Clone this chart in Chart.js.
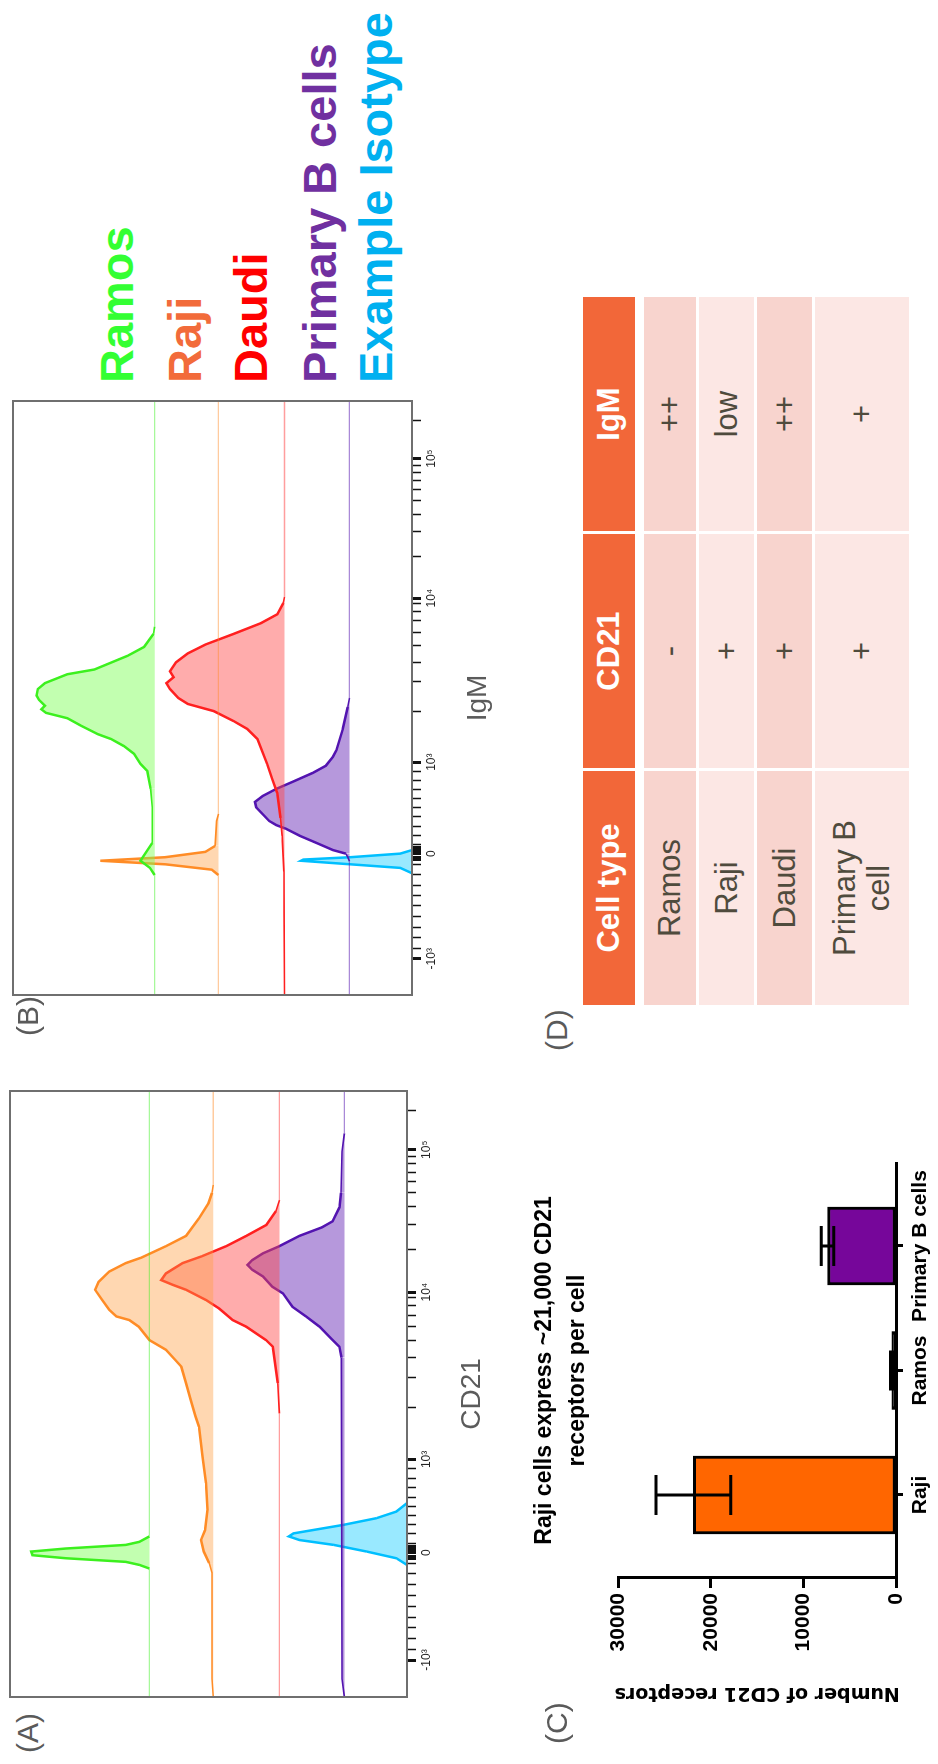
<!DOCTYPE html>
<html>
<head>
<meta charset="utf-8">
<script src="https://cdn.jsdelivr.net/npm/chart.js@4.4.0/dist/chart.umd.min.js"></script>
<style>
  html, body { margin: 0; padding: 0; background: #fff; overflow: hidden; }
  body { width: 938px; height: 1764px; position: relative; }
  /* the figure is laid out landscape and turned a quarter turn */
  #fig { position: absolute; left: 0; top: 0; width: 1764px; height: 938px;
         transform-origin: 0 0; transform: translate(0, 1764px) rotate(-90deg);
         font-family: 'Liberation Sans', Arial, sans-serif; background: #fff; }
  #fig canvas { position: absolute; }
  .lbl { position: absolute; font-size: 30px; line-height: 30px; color: #5a5a5a; white-space: nowrap; }
  .leg { position: absolute; font-size: 47px; line-height: 47px; font-weight: bold; white-space: nowrap; }
  .cell { position: absolute; display: flex; align-items: center; justify-content: center;
          text-align: center; font-size: 31px; line-height: 34px; color: #4f4b3d; white-space: pre-line; }
  .head { background: #f26739; color: #fff; font-weight: bold; }
</style>
</head>
<body>
<div id="fig">
  <canvas id="cd21Chart" width="626" height="500" style="left:57px;top:0px"></canvas>
  <canvas id="igmChart" width="614" height="500" style="left:759px;top:0px"></canvas>
  <canvas id="barChart" width="620" height="418" style="left:0px;top:520px"></canvas>
</div>
<script>
// ---- data ----
var cellLines = ['Ramos', 'Raji', 'Daudi', 'Primary B cells', 'Example Isotype'];
var offsets = [218, 164, 108, 53, 0];   // baseline of each offset histogram (% of mode units)

// flow axis, channel units 0..1000
var tickChannels = [61, 238, 392, 668, 903];
var tickLabels = ['-10³', '0', '10³', '10⁴', '10⁵'];
var minorTicks = [79, 96, 114, 132, 150, 167, 185, 203, 220, 228, 232, 244, 248, 253, 269, 284, 300, 315, 330, 346, 361, 377,
                  478, 527, 560, 588, 611, 630, 646, 659, 739, 780, 809, 832, 851, 866, 880, 892, 968];
var boldTicks = [228, 232, 244, 248];

// panel A, CD21 histograms [channel, % of mode]
var cd21Ramos = [[0,0],[212,0],[218,8.5],[223,20],[229,71],[234,99],[240,100],[245,71],[251,20],[256,8.5],[265,0],[1000,0]];
var cd21Raji = [[0,0],[30,1],[205,1],[221,3.4],[240,8],[259,10.4],[275,7],[309,4.8],[353,6.2],[397,9],[446,12],[463,15],
  [490,19],[518,23],[545,27],[556,32],[573,40],[589,54],[611,63],[622,71],[628,82],[639,88],[655,94],[672,100],[685,97],
  [702,88],[716,74],[725,61],[744,40],[761,23],[790,12],[815,4],[832,1],[845,0],[1000,0]];
var cd21Daudi = [[0,0],[468,0],[518,1.4],[578,5.6],[589,11.3],[611,28],[622,39.5],[641,51],[655,62],[672,79],[680,90],
  [688,100],[699,96],[716,82],[727,66],[744,45],[761,28],[779,11],[802,2.8],[820,0],[1000,0]];
var cd21PrimaryB = [[0,0],[30,2],[560,2.5],[578,4.2],[589,10],[611,21],[628,32.5],[644,44],[666,52],[677,61],[694,69],
  [705,78],[713,82],[721,78],[732,69],[744,55],[761,38],[775,19],[785,10],[808,4.2],[832,2.8],[900,2],[930,0],[1000,0]];
var cd21Isotype = [[0,0],[218,0],[229,9],[240,34],[251,62],[259,91],[265,100],[270,96],[284,54],[295,26],[306,9],[320,0],[1000,0]];

// panel B, IgM histograms
var igmRamos = [[0,0],[202,0],[214,4],[226,12],[244,6],[256,2],[316,2],[347,3.4],[377,6.2],[389,12],[406,17.5],[419,26],
  [431,37],[439,48],[454,63],[466,74],[475,92],[481,96],[487,93],[497,98],[504,100],[515,99],[525,93],[540,74],[548,51],
  [571,23],[586,9],[608,1],[620,0],[1000,0]];
var igmRaji = [[0,0],[202,0],[211,5.6],[220,45],[226,100],[232,45],[241,11],[251,2.8],[293,1.5],[305,0],[1000,0]];
var igmDaudi = [[0,0],[208,0.5],[268,2],[298,3.4],[340,6.2],[364,10.5],[389,14.7],[431,23],[448,31.6],[461,43],[478,60],
  [490,82],[500,90],[515,97],[525,100],[535,94],[545,97],[560,92],[575,82],[590,67],[608,43],[626,20],[641,6],[660,1],[670,0],[1000,0]];
var igmPrimaryB = [[0,0],[225,0],[232,1.4],[238,3],[244,14],[256,28],[268,42],[280,54],[286,62],[293,68],[316,79],[325,80],
  [335,73.5],[347,62],[359,48],[374,31],[386,20],[401,14],[412,11],[448,5.6],[485,1.4],[500,0],[1000,0]];
var igmIsotype = [[0,0],[205,0],[214,10],[220,52],[226,94],[228,92],[232,52],[238,10],[244,0],[1000,0]];

// panel C
var barCategories = ['Raji', 'Ramos', 'Primary B cells'];
var receptorMeans = [21900, 450, 7400];
var receptorErr = [4050, 150, 680];
var yTicksBar = [0, 10000, 20000, 30000];

// panel D
var tableHeader = ['Cell type', 'CD21', 'IgM'];
var tableRows = [['Ramos', '-', '++'], ['Raji', '+', 'low'], ['Daudi', '+', '++'], ['Primary B\ncell', '+', '+']];

// ---- styles ----
var legendColors = ['#33ff33', '#f26b3a', '#ff0000', '#7030a0', '#00b0f0'];
var lineColors = ['#3cf01e', '#ff8c26', '#ff2020', '#5314b0', '#00bfff'];
var fillColors = ['rgba(120,255,80,0.45)', 'rgba(255,160,70,0.42)', 'rgba(255,70,70,0.45)', 'rgba(110,50,185,0.5)', 'rgba(0,200,255,0.4)'];
var baseColors = ['rgba(60,240,30,0.45)', 'rgba(255,140,40,0.45)', 'rgba(255,40,40,0.45)', 'rgba(83,20,176,0.5)', 'rgba(0,190,255,0.5)'];
var barColors = ['#ff6600', '#111111', '#76069a'];

Chart.defaults.font.family = "'Liberation Sans', Arial, sans-serif";

var framePlugin = {
  id: 'frame',
  afterDatasetsDraw: function (chart) {
    var a = chart.chartArea, ctx = chart.ctx;
    ctx.save();
    ctx.strokeStyle = '#6f6f6f';
    ctx.lineWidth = 2;
    ctx.strokeRect(a.left, a.top, a.right - a.left, a.bottom - a.top);
    ctx.restore();
  }
};

function flowChart(id, series, yMax, padTop, axisHeight, title, titlePad) {
  var datasets = series.map(function (pts, i) {
    var h = function (c) { return Math.max(pts[c.p0DataIndex][1], pts[c.p1DataIndex][1]); };
    return {
      data: pts.map(function (p) { return { x: p[0], y: offsets[i] + p[1] }; }),
      borderColor: lineColors[i],
      backgroundColor: fillColors[i],
      borderWidth: 2.5,
      fill: { value: offsets[i] },
      pointRadius: 0,
      tension: 0,
      segment: {
        borderWidth: function (c) { var m = h(c); return m === 0 ? 1.3 : (m < 4 ? 1.6 : 2.5); },
        borderColor: function (c) { return h(c) === 0 ? baseColors[i] : lineColors[i]; }
      }
    };
  });
  var allTicks = tickChannels.concat(minorTicks).sort(function (a, b) { return a - b; });
  return new Chart(document.getElementById(id), {
    type: 'line',
    data: { datasets: datasets },
    options: {
      responsive: false,
      animation: false,
      layout: { padding: { left: 10, right: 10, top: padTop, bottom: 0 } },
      plugins: { legend: { display: false }, tooltip: { enabled: false } },
      scales: {
        x: {
          type: 'linear', min: 0, max: 1000,
          afterBuildTicks: function (s) { s.ticks = allTicks.map(function (v) { return { value: v }; }); },
          afterFit: function (s) { s.height = axisHeight; },
          ticks: {
            autoSkip: false, maxRotation: 0, padding: 3, color: '#222', font: { size: 12 },
            callback: function (v) { var k = tickChannels.indexOf(v); return k >= 0 ? tickLabels[k] : ''; }
          },
          grid: {
            drawOnChartArea: false, tickLength: 9, tickColor: '#111',
            tickWidth: function (c) {
              if (!c.tick) return 1.5;
              return (tickChannels.indexOf(c.tick.value) >= 0 || boldTicks.indexOf(c.tick.value) >= 0) ? 3 : 1.5;
            }
          },
          border: { display: true, color: '#6f6f6f', width: 2 },
          title: { display: true, text: title, color: '#5b5b5b', font: { size: 28 }, padding: { top: 0, bottom: titlePad } }
        },
        y: { display: false, min: 0, max: yMax }
      }
    },
    plugins: [framePlugin]
  });
}

flowChart('cd21Chart', [cd21Ramos, cd21Raji, cd21Daudi, cd21PrimaryB, cd21Isotype], 336, 10, 93, 'CD21', 11);
flowChart('igmChart', [igmRamos, igmRaji, igmDaudi, igmPrimaryB, igmIsotype], 338, 13, 88, 'IgM', 5);

var errorBarPlugin = {
  id: 'errorBars',
  afterDatasetsDraw: function (chart) {
    var ctx = chart.ctx, x = chart.scales.x, y = chart.scales.y;
    ctx.save();
    ctx.strokeStyle = '#000';
    ctx.lineWidth = 3;
    receptorMeans.forEach(function (m, i) {
      var px = x.getPixelForValue(i);
      var hi = y.getPixelForValue(m + receptorErr[i]);
      var lo = y.getPixelForValue(Math.max(0, m - receptorErr[i]));
      ctx.beginPath();
      ctx.moveTo(px, hi); ctx.lineTo(px, lo);
      ctx.moveTo(px - 20, hi); ctx.lineTo(px + 20, hi);
      ctx.moveTo(px - 20, lo); ctx.lineTo(px + 20, lo);
      ctx.stroke();
    });
    ctx.restore();
  }
};

new Chart(document.getElementById('barChart'), {
  type: 'bar',
  data: {
    datasets: [{
      data: receptorMeans.map(function (m, i) { return { x: i, y: m }; }),
      backgroundColor: barColors,
      borderColor: '#000',
      borderWidth: 3,
      borderSkipped: false,
      barThickness: 78
    }]
  },
  options: {
    responsive: false,
    animation: false,
    layout: { padding: { left: 0, right: 19, top: 0, bottom: 0 } },
    plugins: {
      legend: { display: false },
      tooltip: { enabled: false },
      title: {
        display: true, fullSize: false, color: '#000',
        text: ['Raji cells express ~21,000 CD21', 'receptors per cell'],
        font: { size: 23, weight: 'bold', lineHeight: 1.4 },
        padding: { top: 9, bottom: 25 }
      }
    },
    scales: {
      x: {
        type: 'linear', min: -2 / 3, max: 8 / 3, offset: false,
        afterBuildTicks: function (s) { s.ticks = barCategories.map(function (c, i) { return { value: i }; }); },
        afterFit: function (s) { s.height = 42; },
        ticks: { autoSkip: false, maxRotation: 0, padding: 5, color: '#000', font: { size: 21, weight: 'bold' },
                 callback: function (v) { return barCategories[v]; } },
        grid: { offset: false, drawOnChartArea: false, tickLength: 7, tickWidth: 3, tickColor: '#000' },
        border: { color: '#000', width: 3 }
      },
      y: {
        min: 0, max: 30000,
        afterBuildTicks: function (s) { s.ticks = yTicksBar.map(function (v) { return { value: v }; }); },
        afterFit: function (s) { s.width = 186; },
        ticks: { padding: 5, color: '#000', font: { size: 21, weight: 'bold' }, callback: function (v) { return String(v); } },
        grid: { drawOnChartArea: false, tickLength: 10, tickWidth: 3, tickColor: '#000' },
        border: { color: '#000', width: 3 },
        title: { display: true, text: 'Number of CD21 receptors', color: '#000',
                 font: { family: "'DejaVu Sans', Verdana, sans-serif", size: 19, weight: 'bold' },
                 padding: { top: 60, bottom: 0 } }
      }
    }
  },
  plugins: [errorBarPlugin]
});

// ---- text layer: panel letters, legend, table ----
var fig = document.getElementById('fig');
function addDiv(cls, text, left, top, w, h, extra) {
  var d = document.createElement('div');
  d.className = cls;
  d.textContent = text;
  d.style.left = left + 'px';
  d.style.top = top + 'px';
  if (w) d.style.width = w + 'px';
  if (h) d.style.height = h + 'px';
  if (extra) for (var k in extra) d.style[k] = extra[k];
  fig.appendChild(d);
  return d;
}

[['(A)', 11, 13], ['(B)', 728, 13], ['(C)', 20, 542], ['(D)', 713, 542]].forEach(function (p) {
  addDiv('lbl', p[0], p[1], p[2]);
});

var legendTops = [93, 161, 227, 296, 352];
cellLines.forEach(function (name, i) {
  addDiv('leg', name, 1381, legendTops[i], 0, 0, { color: legendColors[i] });
});

var colLeft = [759, 996, 1233], colW = 234;
var rowTop = [583, 644, 699, 757, 815], rowH = [52, 52, 55, 55, 94];
var rowBg = ['#f8d4ce', '#fce7e4'];
tableHeader.forEach(function (h, c) {
  addDiv('cell head', h, colLeft[c], rowTop[0], colW, rowH[0]);
});
tableRows.forEach(function (row, r) {
  row.forEach(function (val, c) {
    addDiv('cell', val, colLeft[c], rowTop[r + 1], colW, rowH[r + 1], { background: rowBg[r % 2] });
  });
});
</script>
</body>
</html>
